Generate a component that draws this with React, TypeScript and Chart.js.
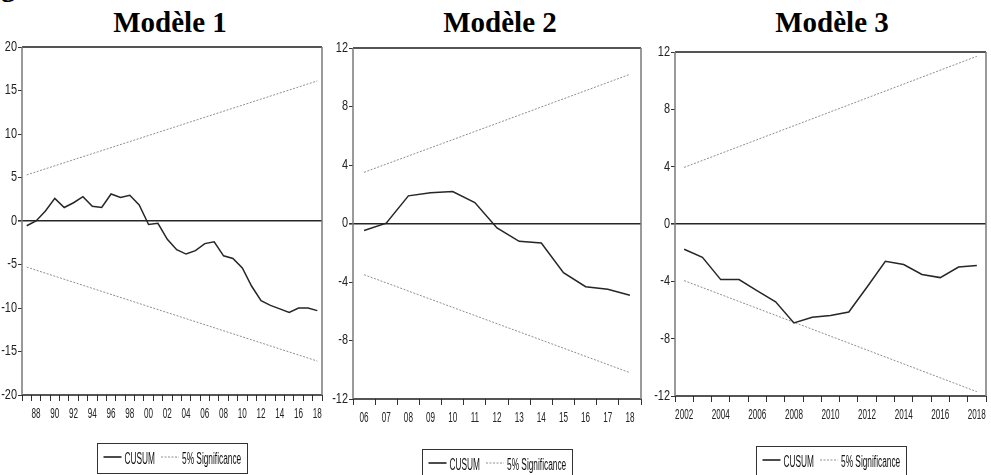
import React, { useEffect, useRef } from 'react';
import { Chart, registerables } from 'chart.js';

Chart.register(...registerables);

// ---------- Data ----------
const m1Years = ['1987', '1988', '1989', '1990', '1991', '1992', '1993', '1994', '1995', '1996', '1997', '1998', '1999', '2000', '2001', '2002', '2003', '2004', '2005', '2006', '2007', '2008', '2009', '2010', '2011', '2012', '2013', '2014', '2015', '2016', '2017', '2018'];
const m1Cusum = [-0.55, 0.0, 1.15, 2.6, 1.55, 2.1, 2.8, 1.7, 1.55, 3.1, 2.7, 2.95, 1.85, -0.4, -0.27, -2.1, -3.3, -3.8, -3.4, -2.6, -2.4, -4.0, -4.3, -5.4, -7.5, -9.15, -9.7, -10.1, -10.5, -10.0, -10.0, -10.3];
const m1Upper = [5.3, 16.1];
const m1Lower = [-5.3, -16.1];
const m1YTicks = [-20, 20, 5];

const m2Years = ['2006', '2007', '2008', '2009', '2010', '2011', '2012', '2013', '2014', '2015', '2016', '2017', '2018'];
const m2Cusum = [-0.48, 0.02, 1.89, 2.11, 2.18, 1.43, -0.3, -1.22, -1.33, -3.36, -4.32, -4.5, -4.9];
const m2Upper = [3.5, 10.2];
const m2Lower = [-3.5, -10.2];
const m2YTicks = [-12, 12, 4];

const m3Years = ['2002', '2003', '2004', '2005', '2006', '2007', '2008', '2009', '2010', '2011', '2012', '2013', '2014', '2015', '2016', '2017', '2018'];
const m3Cusum = [-1.76, -2.33, -3.88, -3.88, -4.67, -5.43, -6.9, -6.5, -6.38, -6.14, -4.4, -2.6, -2.83, -3.52, -3.74, -3.0, -2.9];
const m3Upper = [3.95, 11.7];
const m3Lower = [-3.95, -11.7];
const m3YTicks = [-12, 12, 4];

const titles = ['Modèle 1', 'Modèle 2', 'Modèle 3'];
const legendLabels = ['CUSUM', '5% Significance'];

// ---------- Plugins ----------
const condensePlugin = {
  id: 'condense',
  beforeInit(chart: any) {
    const ctx = chart.ctx;
    const orig = ctx.fillText.bind(ctx);
    ctx.fillText = (text: string, x: number, y: number, maxWidth?: number) => {
      const o = (chart.config.options.plugins || {}).condense || {};
      const s = ctx.textAlign === 'right' ? (o.right ?? 1) : ctx.textAlign === 'center' ? (o.center ?? 1) : 1;
      if (s === 1) {
        if (maxWidth === undefined) orig(text, x, y); else orig(text, x, y, maxWidth);
        return;
      }
      ctx.save();
      ctx.translate(x, y);
      ctx.scale(s, 1);
      orig(text, 0, 0);
      ctx.restore();
    };
  },
};

const framePlugin = {
  id: 'frame',
  beforeDatasetsDraw(chart: any) {
    const { left, right, top, bottom } = chart.chartArea;
    const ctx = chart.ctx;
    ctx.save();
    ctx.lineWidth = 1.5;
    ctx.strokeStyle = '#1e1e1e';
    ctx.beginPath();
    ctx.moveTo(left, top); ctx.lineTo(right, top);
    ctx.moveTo(left, bottom); ctx.lineTo(right, bottom);
    ctx.stroke();
    ctx.strokeStyle = '#7a7a7a';
    ctx.beginPath();
    ctx.moveTo(left, top); ctx.lineTo(left, bottom);
    ctx.moveTo(right, top); ctx.lineTo(right, bottom);
    ctx.stroke();
    ctx.restore();
  },
};

const boxLegendPlugin = {
  id: 'boxLegend',
  afterDraw(chart: any, _args: any, opts: any) {
    const ctx = chart.ctx;
    const ca = chart.chartArea;
    const cx = (ca.left + ca.right) / 2;
    const s = 0.52;
    const ds = chart.data.datasets;
    const items = [ds[0], ds[1]];
    ctx.save();
    ctx.font = '16px "Liberation Sans", Arial, sans-serif';
    const pad = 6, sample = 18, gap = 3, between = 6;
    const widths = items.map((d: any) => ctx.measureText(d.label).width * s);
    const total = pad * 2 + items.length * (sample + gap) + widths.reduce((a: number, b: number) => a + b, 0) + between * (items.length - 1);
    const left = Math.round(cx - total / 2) + 0.5;
    const top = Math.round(opts.top) + 0.5;
    ctx.strokeStyle = '#333';
    ctx.lineWidth = 1;
    ctx.setLineDash([]);
    ctx.strokeRect(left, top, Math.round(total), 30);
    let x = left + pad;
    items.forEach((d: any, i: number) => {
      ctx.save();
      ctx.strokeStyle = i === 0 ? '#111' : d.borderColor;
      ctx.lineWidth = i === 0 ? 1.5 : 1;
      ctx.setLineDash(d.borderDash || []);
      ctx.beginPath();
      ctx.moveTo(x, top + 13.5);
      ctx.lineTo(x + sample, top + 13.5);
      ctx.stroke();
      ctx.restore();
      x += sample + gap;
      ctx.save();
      ctx.fillStyle = '#111';
      ctx.textAlign = 'left';
      ctx.textBaseline = 'alphabetic';
      ctx.translate(x, top + 20);
      ctx.scale(s, 1);
      ctx.fillText(d.label, 0, 0);
      ctx.restore();
      x += widths[i] + between;
    });
    ctx.restore();
  },
};

// ---------- Chart config ----------
type PanelDef = {
  years: string[];
  cusum: number[];
  upper: number[];
  lower: number[];
  yTicks: number[];
  fmt: (y: string) => string;
  left: number;
  width: number;
  padTop: number;
  padBottom: number;
  padRight: number;
  legendTop: number;
};

const tickFont = { family: '"Liberation Sans", Arial, sans-serif', size: 14 };

function makeConfig(p: PanelDef): any {
  const first = p.years[0];
  const last = p.years[p.years.length - 1];
  return {
    type: 'line',
    data: {
      labels: p.years,
      datasets: [
        { label: legendLabels[0], data: p.cusum, borderColor: '#262626', borderWidth: 1.5, pointRadius: 0, tension: 0, fill: false },
        { label: legendLabels[1], data: [{ x: first, y: p.upper[0] }, { x: last, y: p.upper[1] }], borderColor: '#8e8e8e', borderWidth: 1, borderDash: [2, 1.5], pointRadius: 0, fill: false },
        { label: legendLabels[1], data: [{ x: first, y: p.lower[0] }, { x: last, y: p.lower[1] }], borderColor: '#8e8e8e', borderWidth: 1, borderDash: [2, 1.5], pointRadius: 0, fill: false },
      ],
    },
    options: {
      responsive: false,
      maintainAspectRatio: false,
      animation: false,
      events: [],
      layout: { padding: { top: p.padTop, bottom: p.padBottom, left: 0, right: p.padRight } },
      plugins: {
        legend: { display: false },
        tooltip: { enabled: false },
        condense: { right: 0.78, center: 0.58 },
        boxLegend: { top: p.legendTop },
      },
      scales: {
        x: {
          type: 'category',
          offset: true,
          grid: { offset: true, drawOnChartArea: false, drawTicks: true, tickLength: 6, tickColor: '#333', lineWidth: 1 },
          border: { display: false },
          ticks: {
            autoSkip: false,
            maxRotation: 0,
            minRotation: 0,
            padding: 5,
            color: '#222',
            font: tickFont,
            callback: function (this: any, v: any) {
              return p.fmt(this.getLabelForValue(v));
            },
          },
          afterFit: (s: any) => {
            s.height = 30;
            s.paddingLeft = 0;
            s.paddingRight = 0;
          },
        },
        y: {
          type: 'linear',
          min: p.yTicks[0],
          max: p.yTicks[1],
          ticks: { stepSize: p.yTicks[2], padding: 1, color: '#222', font: tickFont },
          grid: {
            drawTicks: true,
            tickLength: 4,
            tickColor: '#333',
            color: (c: any) => (c.tick && c.tick.value === 0 ? '#262626' : 'rgba(0,0,0,0)'),
            lineWidth: (c: any) => (c.tick && c.tick.value === 0 ? 1.6 : 1),
          },
          border: { display: false },
          afterFit: (s: any) => {
            s.width = 22;
            s.paddingTop = 0;
            s.paddingBottom = 0;
          },
        },
      },
    },
    plugins: [condensePlugin, framePlugin, boxLegendPlugin],
  };
}

const panels: PanelDef[] = [
  {
    years: m1Years, cusum: m1Cusum, upper: m1Upper, lower: m1Lower, yTicks: m1YTicks,
    fmt: (y) => (Number(y) % 2 === 0 ? y.slice(2) : ''),
    left: 0, width: 328, padTop: 47, padBottom: 50, padRight: 6, legendTop: 443,
  },
  {
    years: m2Years, cusum: m2Cusum, upper: m2Upper, lower: m2Lower, yTicks: m2YTicks,
    fmt: (y) => y.slice(2),
    left: 331, width: 316, padTop: 48, padBottom: 46, padRight: 6, legendTop: 449,
  },
  {
    years: m3Years, cusum: m3Cusum, upper: m3Upper, lower: m3Lower, yTicks: m3YTicks,
    fmt: (y) => (Number(y) % 2 === 0 ? y : ''),
    left: 653, width: 338, padTop: 52, padBottom: 49, padRight: 5, legendTop: 446,
  },
];

const titleCenters = [170, 500, 832];

function Panel({ def }: { def: PanelDef }) {
  const ref = useRef<HTMLCanvasElement | null>(null);
  useEffect(() => {
    if (!ref.current) return;
    const chart = new Chart(ref.current, makeConfig(def));
    return () => chart.destroy();
  }, [def]);
  return (
    <canvas
      ref={ref}
      width={def.width}
      height={475}
      style={{ position: 'absolute', left: def.left, top: 0, width: def.width, height: 475 }}
    />
  );
}

export default function App() {
  return (
    <div style={{ position: 'fixed', left: 0, top: 0, width: 991, height: 475, overflow: 'hidden', background: '#fff' }}>
      <div
        style={{
          position: 'absolute', left: 1, top: -28, fontFamily: '"Liberation Serif", "Times New Roman", serif',
          fontWeight: 'bold', fontSize: 29, lineHeight: '29px', color: '#000',
        }}
      >
        g
      </div>
      {titles.map((t, i) => (
        <div
          key={t}
          style={{
            position: 'absolute', left: titleCenters[i] - 100, width: 200, top: 8, textAlign: 'center',
            fontFamily: '"Liberation Serif", "Times New Roman", serif', fontWeight: 'bold', fontSize: 29,
            lineHeight: '29px', color: '#000', whiteSpace: 'nowrap',
          }}
        >
          {t}
        </div>
      ))}
      {panels.map((p, i) => (
        <Panel key={i} def={p} />
      ))}
    </div>
  );
}
